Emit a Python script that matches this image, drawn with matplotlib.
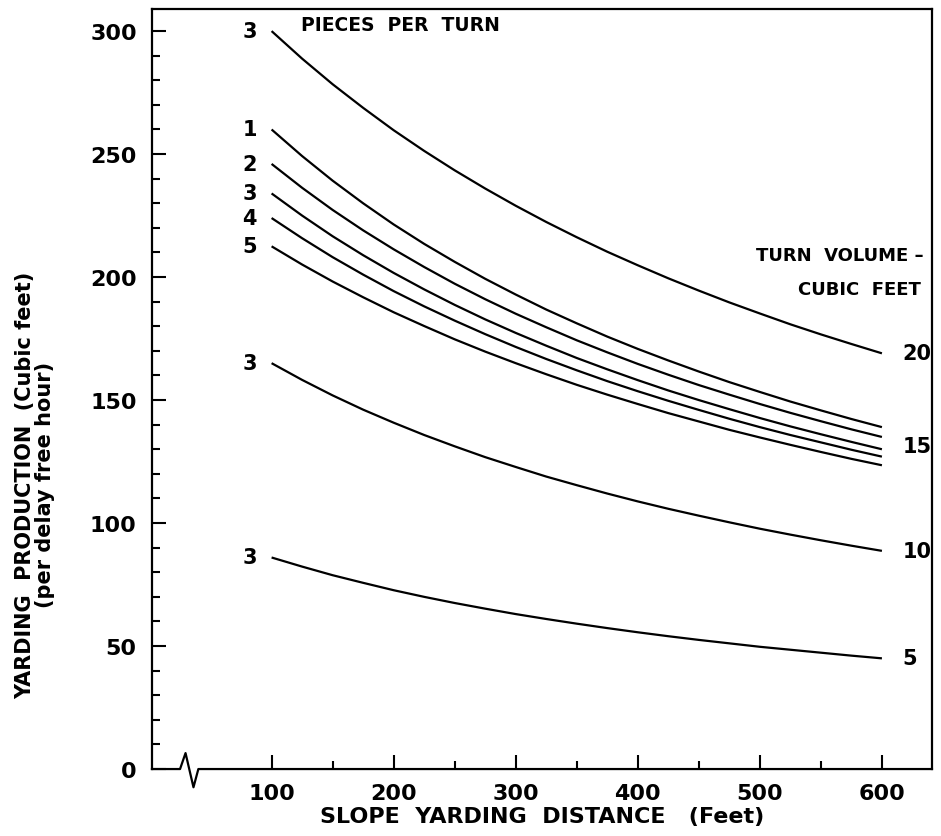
import matplotlib.pyplot as plt
from matplotlib.ticker import FixedLocator, MultipleLocator

plt.rcParams['font.family'] = ['DejaVu Sans']
plt.rcParams['font.weight'] = 'bold'

# ================= Data =================
distance = [100, 125, 150, 175, 200, 225, 250, 275, 300, 325, 350,
            375, 400, 425, 450, 475, 500, 525, 550, 575, 600]

# turn volume 20 cu ft, 3 pieces per turn
vol20_p3 = [300, 288.8, 278.4, 268.8, 259.7, 251.3, 243.4, 236.0, 229.0, 222.4, 216.2,
            210.3, 204.8, 199.5, 194.5, 189.7, 185.2, 180.8, 176.7, 172.8, 169]
# turn volume 15 cu ft, 1..5 pieces per turn
vol15_p1 = [260, 249.2, 239.2, 230.0, 221.4, 213.5, 206.2, 199.3, 192.9, 186.8, 181.2,
            175.8, 170.8, 166.1, 161.6, 157.3, 153.3, 149.4, 145.8, 142.3, 139]
vol15_p2 = [246, 236.3, 227.3, 219.0, 211.3, 204.1, 197.3, 191.0, 185.1, 179.6, 174.3,
            169.4, 164.7, 160.3, 156.1, 152.2, 148.4, 144.8, 141.4, 138.1, 135]
vol15_p3 = [234, 225.0, 216.6, 208.9, 201.7, 195.0, 188.7, 182.8, 177.3, 172.1, 167.1,
            162.5, 158.1, 153.9, 150.0, 146.3, 142.7, 139.3, 136.1, 133.0, 130]
vol15_p4 = [224, 215.8, 208.1, 201.0, 194.3, 188.1, 182.3, 176.8, 171.6, 166.7, 162.1,
            157.7, 153.6, 149.7, 146.0, 142.4, 139.0, 135.8, 132.8, 129.8, 127]
vol15_p5 = [212.5, 205.1, 198.2, 191.8, 185.7, 180.1, 174.7, 169.7, 165.0, 160.5, 156.2,
            152.2, 148.4, 144.7, 141.3, 137.9, 134.8, 131.8, 128.9, 126.1, 123.5]
# turn volume 10 cu ft, 3 pieces
vol10_p3 = [165, 158.2, 151.9, 146.1, 140.8, 135.8, 131.2, 126.8, 122.8, 118.9, 115.4,
            112.0, 108.8, 105.8, 103.0, 100.3, 97.7, 95.3, 93.0, 90.8, 88.7]
# turn volume 5 cu ft, 3 pieces
vol5_p3 = [86, 82.3, 78.8, 75.7, 72.7, 70.0, 67.5, 65.2, 63.0, 61.0, 59.1,
           57.3, 55.6, 54.0, 52.5, 51.1, 49.7, 48.5, 47.3, 46.1, 45]

curves = [vol20_p3, vol15_p1, vol15_p2, vol15_p3, vol15_p4, vol15_p5, vol10_p3, vol5_p3]
piece_labels = ['3', '1', '2', '3', '4', '5', '3', '3']
volume_labels = ['20', '15', '10', '5']
volume_label_y = [169, 131.5, 88.7, 45]

# ================= Plot =================
fig = plt.figure(figsize=(9.41, 8.37), dpi=100)
ax = fig.add_axes([0.1615, 0.0800, 0.8289, 0.9081])

for ys in curves:
    ax.plot(distance, ys, color='black', lw=1.6, solid_capstyle='butt',
            solid_joinstyle='round')

# pieces-per-turn labels at left ends
for ys, lab in zip(curves, piece_labels):
    ax.text(88, ys[0], lab, ha='right', va='center', fontsize=15, fontweight='bold')

ax.text(124, 302.5, 'PIECES  PER  TURN', ha='left', va='center', fontsize=13.5, fontweight='bold')

# turn volume labels at right ends
for lab, yv in zip(volume_labels, volume_label_y):
    ax.text(617, yv, lab, ha='left', va='center', fontsize=15, fontweight='bold')
ax.text(634, 209, 'TURN  VOLUME –', ha='right', va='center', fontsize=13, fontweight='bold')
ax.text(632, 195, 'CUBIC  FEET', ha='right', va='center', fontsize=13, fontweight='bold')

ax.set_xlim(2, 641)
ax.set_ylim(0, 309)

ax.xaxis.set_major_locator(FixedLocator([100, 200, 300, 400, 500, 600]))
ax.xaxis.set_minor_locator(FixedLocator([150, 250, 350, 450, 550]))
ax.yaxis.set_major_locator(FixedLocator([0, 50, 100, 150, 200, 250, 300]))
ax.yaxis.set_minor_locator(MultipleLocator(10))

ax.tick_params(which='both', direction='in', width=1.5, top=False, right=False)
ax.tick_params(which='major', length=10)
ax.tick_params(which='minor', length=6)
ax.tick_params(axis='y', pad=11, labelsize=16)
ax.tick_params(axis='x', pad=10, labelsize=16)
for lab in ax.get_xticklabels() + ax.get_yticklabels():
    lab.set_fontweight('bold')

for side in ['left', 'top', 'right']:
    ax.spines[side].set_linewidth(1.6)
ax.spines['bottom'].set_visible(False)

# bottom axis line with the break squiggle near the origin
brk_x = [2, 25, 29.5, 36, 40, 641]
brk_y = [0, 0, 0.021, -0.024, 0, 0]
ax.plot(brk_x, brk_y, color='black', lw=1.6, clip_on=False,
        transform=ax.get_xaxis_transform())

ax.set_xlabel('SLOPE  YARDING  DISTANCE   (Feet)', fontsize=16, fontweight='bold', labelpad=2)
ax.text(-0.150, 0.375, 'YARDING  PRODUCTION  (Cubic feet)\n(per delay free hour)',
        transform=ax.transAxes, rotation=90, ha='center', va='center',
        fontsize=15, fontweight='bold', linespacing=1.0)

fig.savefig('out.png', dpi=100)
